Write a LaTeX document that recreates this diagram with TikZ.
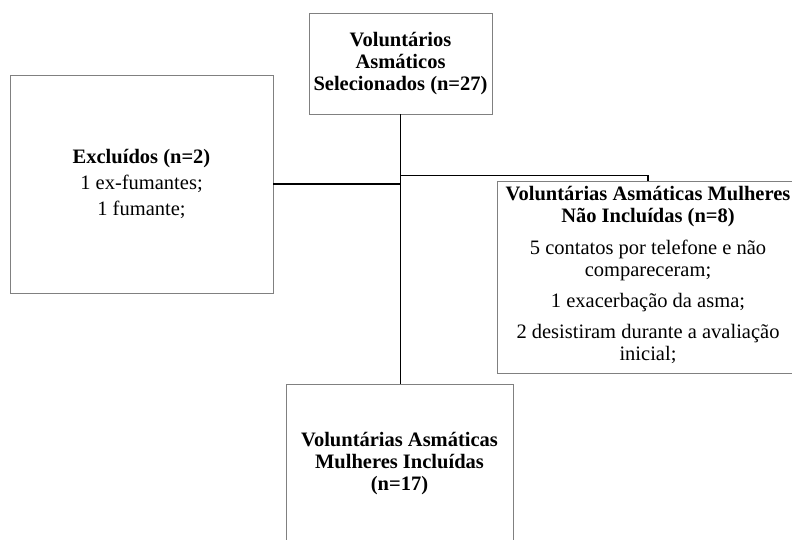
\documentclass[tikz,border=0pt]{standalone}
\usepackage{fontspec}
\setmainfont{Liberation Serif}
\usetikzlibrary{calc}
\begin{document}
\begin{tikzpicture}[x=1pt,y=-1pt,
  box/.style={draw=black!50, line width=0.9pt, fill=white, align=center, inner sep=0pt,
    font=\fontsize{20.5}{22}\selectfont},
  txt/.style={align=center, inner sep=0pt, font=\fontsize{20.5}{22}\selectfont},
  conn/.style={draw=black, line width=1.8pt}]
\clip (0,0) rectangle (792,539);
\useasboundingbox (0,0) rectangle (792,539);
\node[box, minimum width=183, minimum height=101] (top) at (400.5,63.5)
  {\bfseries Voluntários\\\bfseries Asmáticos\\\bfseries Selecionados (n=27)};
\node[box, minimum width=263, minimum height=218] (excl) at (141.5,184)
  {\bfseries Excluídos (n=2)\\[4pt] 1 ex-fumantes;\\[4pt] 1 fumante;};
\node[box, minimum width=302, minimum height=192] (right) at (648,277) {};
\node[txt] (rtext) at (648,275)
  {\bfseries Voluntárias Asmáticas Mulheres\\\bfseries Não Incluídas (n=8)\\[10pt]
   5 contatos por telefone e não\\ compareceram;\\[9pt] 1 exacerbação da asma;\\[9pt]
   2 desistiram durante a avaliação\\ inicial;};
\node[box, minimum width=227, minimum height=160] (incl) at (399.5,464)
  {\bfseries Voluntárias Asmáticas\\\bfseries Mulheres Incluídas\\\bfseries (n=17)};
\draw[conn] (top.south) -- (top.south |- incl.north);
\draw[conn] (excl.east) -- (excl.east -| top.south);
\coordinate (j2) at ($(top.south)+(0,61)$);
\draw[conn] (j2) -| (right.north);
\end{tikzpicture}
\end{document}
